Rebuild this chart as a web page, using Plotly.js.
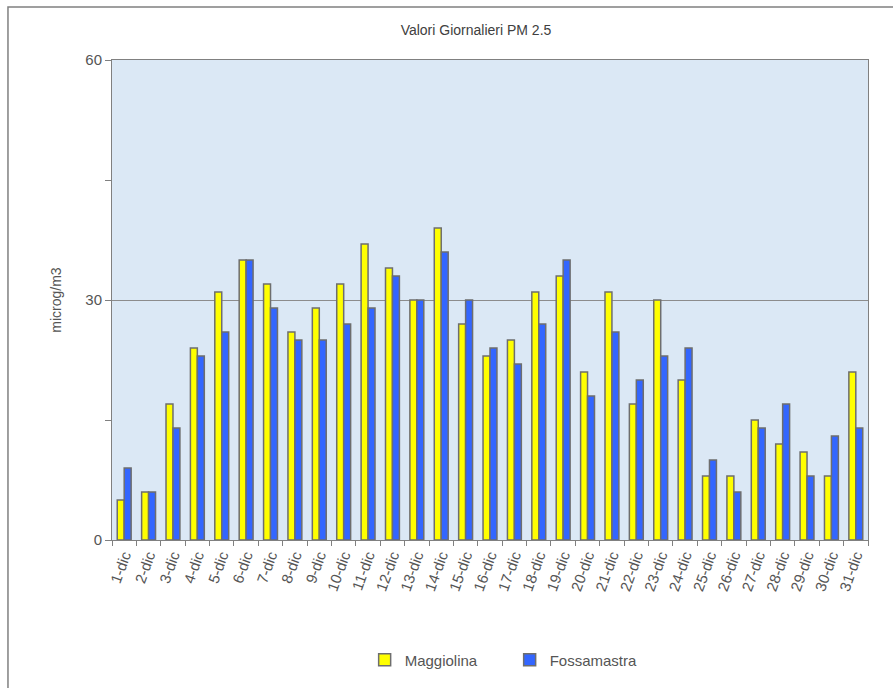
<!DOCTYPE html>
<html>
<head>
<meta charset="utf-8">
<script src="https://cdn.plot.ly/plotly-3.0.1.min.js"></script>
<style>
  html, body { margin: 0; padding: 0; background: #fff; }
  #chart { width: 893px; height: 688px; }
</style>
</head>
<body>
<div id="chart"></div>
<script>
const days = ['1-dic', '2-dic', '3-dic', '4-dic', '5-dic', '6-dic', '7-dic', '8-dic', '9-dic', '10-dic',
    '11-dic', '12-dic', '13-dic', '14-dic', '15-dic', '16-dic', '17-dic', '18-dic', '19-dic', '20-dic',
    '21-dic', '22-dic', '23-dic', '24-dic', '25-dic', '26-dic', '27-dic', '28-dic', '29-dic', '30-dic', '31-dic'];
const maggiolina = [5, 6, 17, 24, 31, 35, 32, 26, 29, 32, 37, 34, 30, 39, 27, 23, 25, 31, 33, 21,
    31, 17, 30, 20, 8, 8, 15, 12, 11, 8, 21];
const fossamastra = [9, 6, 14, 23, 26, 35, 29, 25, 25, 27, 29, 33, 30, 36, 30, 24, 22, 27, 35, 18,
    26, 20, 23, 24, 10, 6, 14, 17, 8, 13, 14];

const font = 'Liberation Sans, Arial, sans-serif';

const traceM = {
    type: 'bar',
    name: 'Maggiolina',
    x: days,
    y: maggiolina,
    marker: { color: '#ffff00', line: { color: '#6e6e6e', width: 1.5 } }
};

const traceF = {
    type: 'bar',
    name: 'Fossamastra',
    x: days,
    y: fossamastra,
    marker: { color: '#3366ff', line: { color: '#6e6e6e', width: 1.5 } }
};

const layout = {
    width: 893,
    height: 688,
    margin: { l: 112, r: 25, t: 60, b: 148 },
    paper_bgcolor: '#ffffff',
    plot_bgcolor: '#dbe8f5',
    font: { family: font, color: '#555555', size: 14 },
    title: {
        text: 'Valori Giornalieri PM 2.5',
        font: { family: font, size: 14, color: '#404040' },
        xref: 'container', x: 0.533, xanchor: 'center',
        yref: 'container', y: 0.956, yanchor: 'middle'
    },
    barmode: 'group',
    bargap: 0.43,
    bargroupgap: 0,
    showlegend: true,
    legend: {
        orientation: 'h',
        x: 0.526, xanchor: 'center',
        y: -0.25, yanchor: 'middle',
        entrywidth: 100,
        itemwidth: 30,
        font: { family: font, size: 15, color: '#555555' },
        bgcolor: 'rgba(0,0,0,0)'
    },
    xaxis: {
        type: 'category',
        tickangle: -70,
        tickson: 'boundaries',
        ticks: 'outside',
        ticklen: 5,
        tickcolor: '#808080',
        showline: true,
        linecolor: '#808080',
        linewidth: 1,
        mirror: true,
        showgrid: false,
        tickfont: { family: font, size: 15, color: '#555555' }
    },
    yaxis: {
        range: [0, 60],
        dtick: 30,
        ticks: 'outside',
        ticklen: 6,
        tickcolor: '#808080',
        showline: true,
        linecolor: '#808080',
        linewidth: 1,
        mirror: true,
        showgrid: true,
        gridcolor: '#8c8c8c',
        gridwidth: 1,
        zeroline: false,
        minor: { dtick: 15, ticks: 'outside', ticklen: 6, tickcolor: '#808080', showgrid: false },
        tickfont: { family: font, size: 15, color: '#555555' },
        title: { text: 'microg/m3', standoff: 20, font: { family: font, size: 14, color: '#555555' } }
    },
    shapes: [
        {
            type: 'rect', xref: 'paper', yref: 'paper',
            x0: -0.1376, x1: 1.045, y0: -0.33, y1: 1.1104,
            line: { color: '#808080', width: 1.5 },
            fillcolor: 'rgba(0,0,0,0)',
            layer: 'below'
        }
    ]
};

Plotly.newPlot('chart', [traceM, traceF], layout, { displayModeBar: false, staticPlot: true });
</script>
</body>
</html>
